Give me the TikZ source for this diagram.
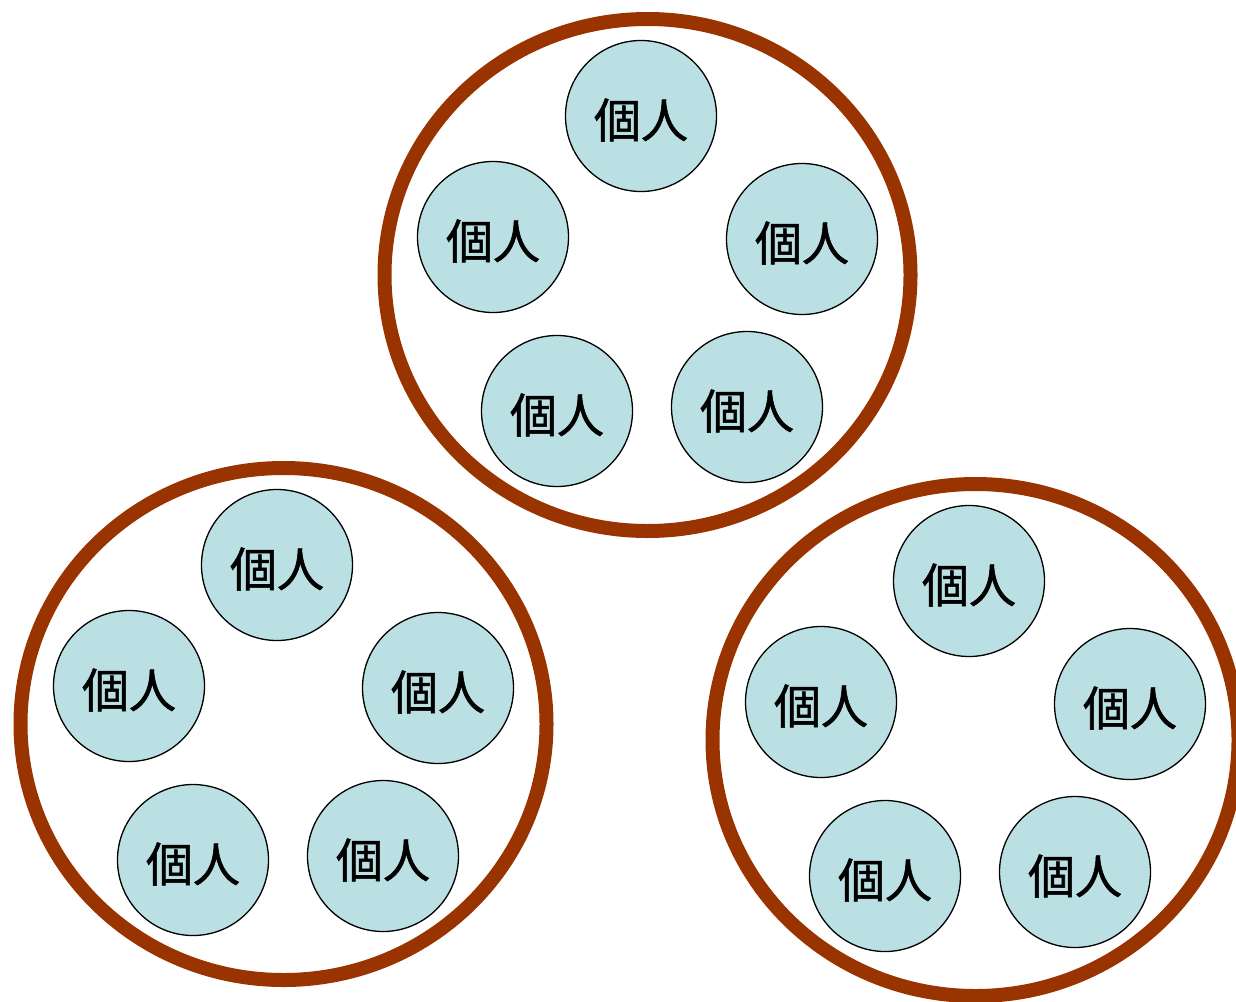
\documentclass[tikz,border=0pt]{standalone}
\usepackage{fontspec}
\newfontfamily\cjk[FakeBold=1.2]{Noto Sans CJK JP}
\definecolor{groupbrown}{HTML}{993300}
\definecolor{personblue}{HTML}{BBE0E3}
\newcommand{\kojin}{\raisebox{-4pt}[\height][\depth]{個人}}

\begin{document}
\begin{tikzpicture}[x=1pt,y=-1pt,
  person/.style={circle,draw,fill=personblue,line width=1.3pt,minimum size=151pt,inner sep=0pt,
    font=\cjk\fontsize{47}{50}\selectfont},
  group/.style={draw=groupbrown,line width=14pt}]
\useasboundingbox (0,0) rectangle (1236,1001);
\foreach \g/\dx/\dy in {top/0/0,left/-364/449,right/328/465}{
  \begin{scope}[shift={(\dx,\dy)}]
  \coordinate (\g c) at (647.5,275);
  \draw [group] (\g c) ellipse [x radius=263pt, y radius=256pt];
  \node [person] (\g1) at (641,116) {\kojin};
  \node [person] (\g2) at (493,237) {\kojin};
  \node [person] (\g3) at (802,239) {\kojin};
  \node [person] (\g4) at (557,411) {\kojin};
  \node [person] (\g5) at (747,407) {\kojin};
  \end{scope}
}
\end{tikzpicture}
\end{document}
